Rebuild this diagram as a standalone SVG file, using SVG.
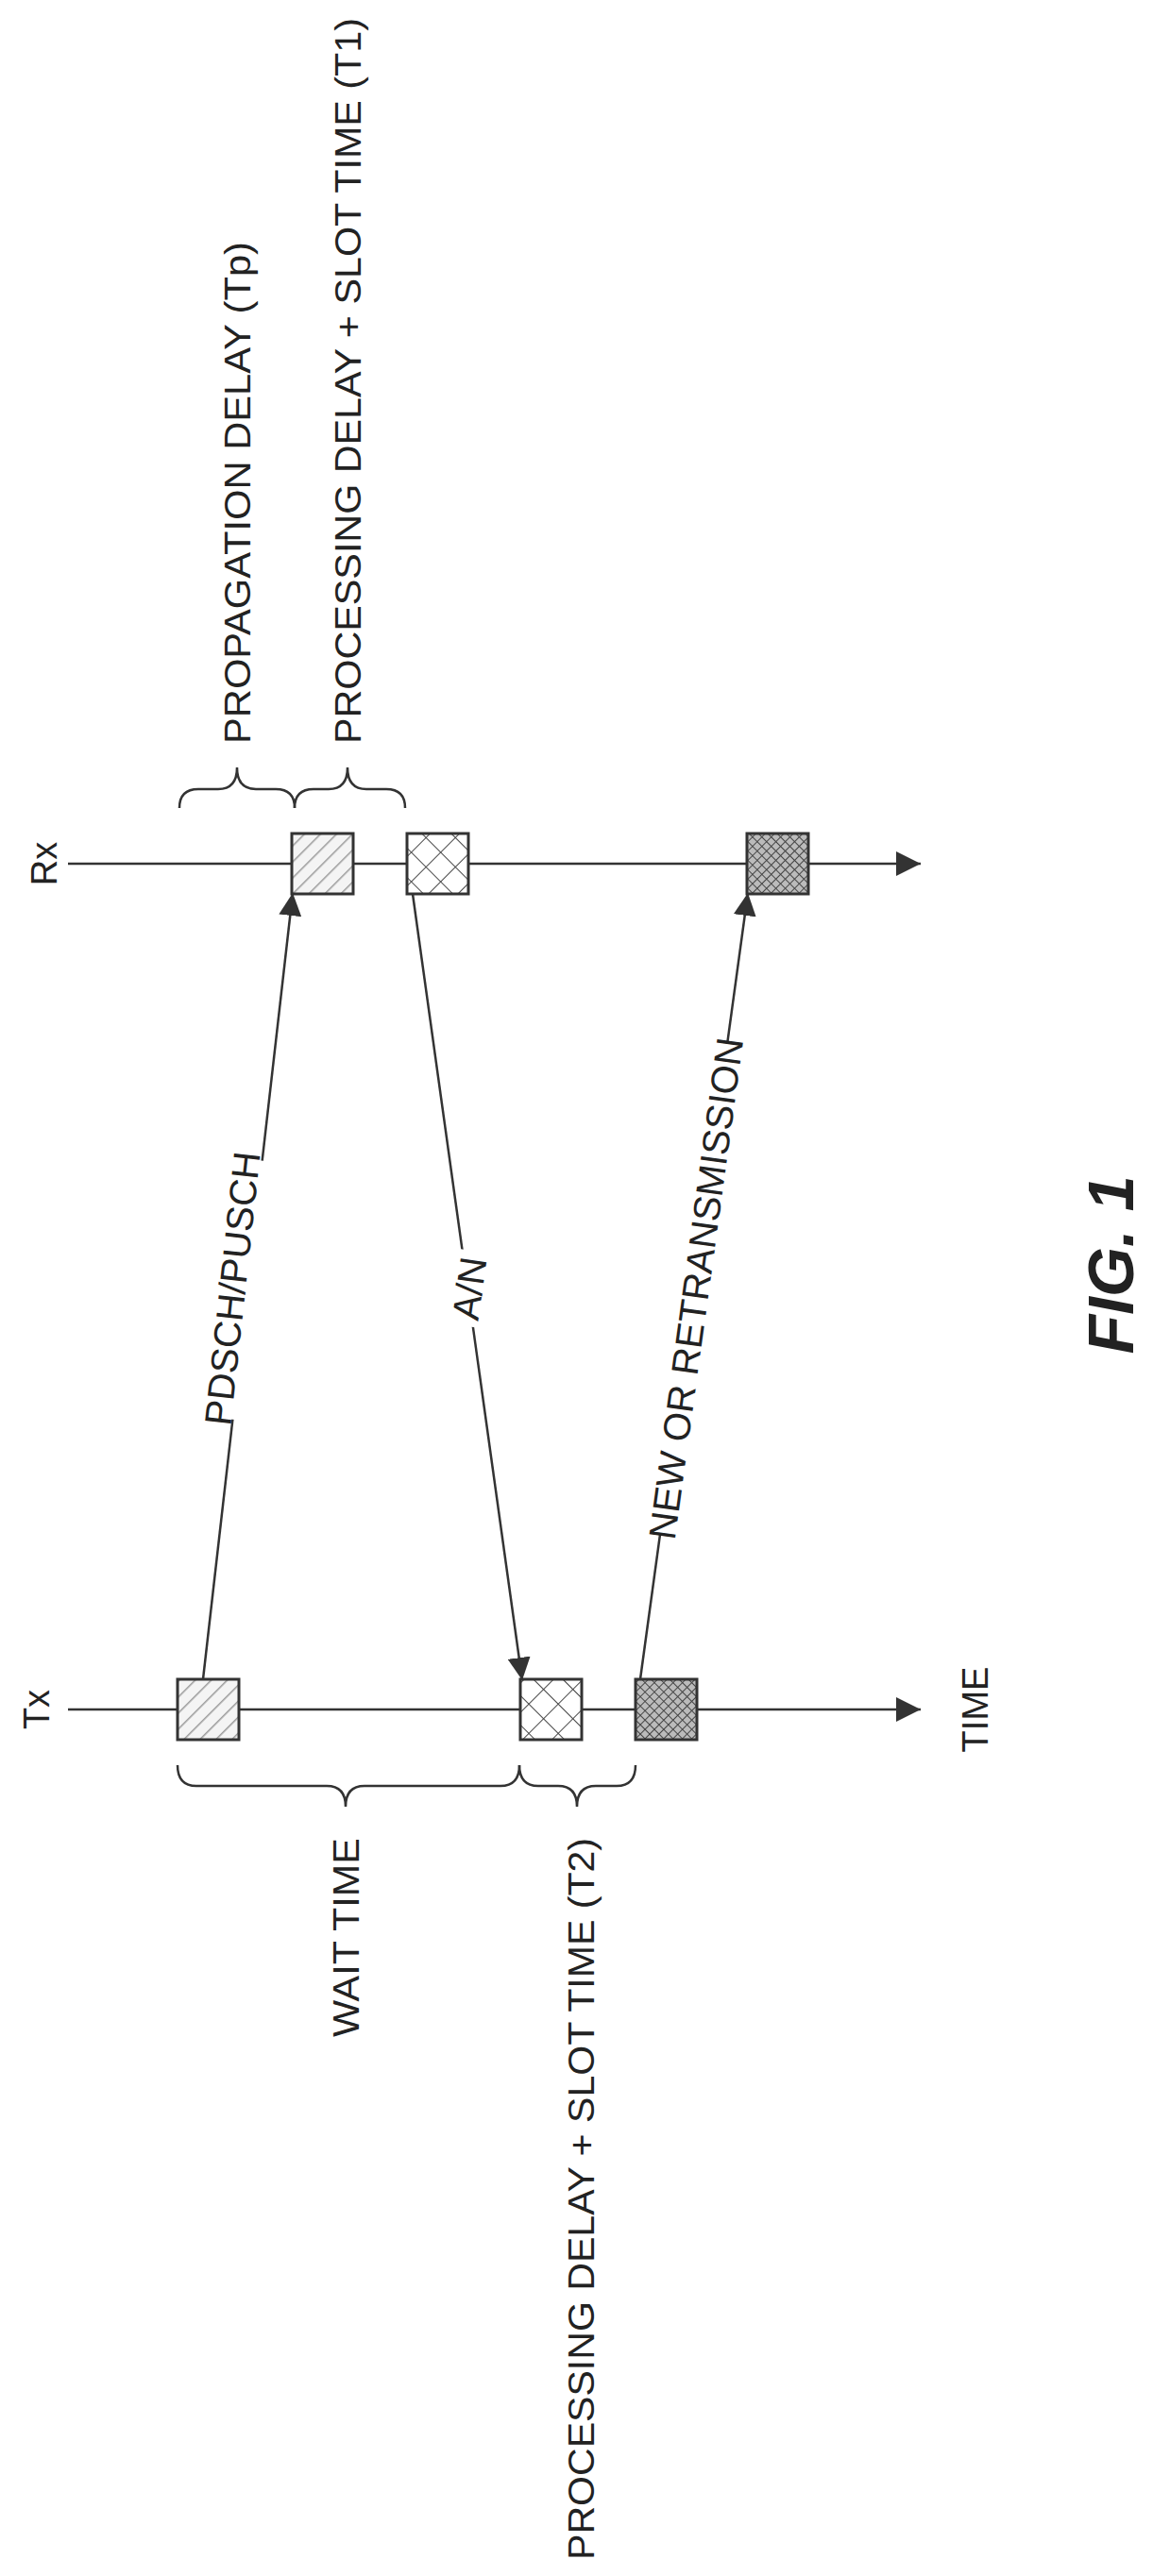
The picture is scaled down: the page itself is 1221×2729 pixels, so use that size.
<svg xmlns="http://www.w3.org/2000/svg" width="1221" height="2729" viewBox="0 0 1221 2729">
<style>
text{font-family:"Liberation Sans",Arial,sans-serif;fill:#222}
.t{font-size:38px}
.lbl{font-size:40px}
.ln{stroke:#333;stroke-width:2.5;fill:none}
.box{stroke:#333;stroke-width:3}
.bg{fill:#fff}
</style>
<defs>
<marker id="ah" viewBox="0 0 10 10" refX="10" refY="5" markerWidth="24" markerHeight="24" markerUnits="userSpaceOnUse" orient="auto"><path d="M0,0L10,5L0,10z" fill="#333"/></marker>
<marker id="ah2" viewBox="0 0 10 10" refX="10" refY="5" markerWidth="26" markerHeight="26" markerUnits="userSpaceOnUse" orient="auto"><path d="M0,0L10,5L0,10z" fill="#333"/></marker>
<pattern id="diag" width="12" height="12" patternUnits="userSpaceOnUse" patternTransform="rotate(45)"><rect width="12" height="12" fill="#f4f4f4"/><line x1="0" y1="0" x2="0" y2="12" stroke="#999" stroke-width="3"/></pattern>
<pattern id="cross" width="22" height="22" patternUnits="userSpaceOnUse" patternTransform="rotate(45)"><rect width="22" height="22" fill="#fff"/><path d="M0,0H22M0,0V22" stroke="#444" stroke-width="2"/></pattern>
<pattern id="dense" width="7" height="7" patternUnits="userSpaceOnUse" patternTransform="rotate(45)"><rect width="7" height="7" fill="#bbb"/><path d="M0,0H7M0,0V7" stroke="#444" stroke-width="2"/></pattern>
</defs>
<g id="axes">
<line class="ln" x1="72" y1="915" x2="975" y2="915" marker-end="url(#ah2)"/>
<line class="ln" x1="72" y1="1811" x2="975" y2="1811" marker-end="url(#ah2)"/>
<text class="t" transform="translate(60,915) rotate(-90)" text-anchor="middle">Rx</text>
<text class="t" transform="translate(52,1811) rotate(-90)" text-anchor="middle">Tx</text>
<text class="t" transform="translate(1046,1811) rotate(-90)" text-anchor="middle">TIME</text>
</g>
<g id="rx1"><rect class="box" x="309" y="883" width="65" height="64" fill="url(#diag)"/></g>
<g id="rx2"><rect class="box" x="431" y="883" width="65" height="64" fill="url(#cross)"/></g>
<g id="rx3"><rect class="box" x="791" y="883" width="65" height="64" fill="url(#dense)"/></g>
<g id="tx1"><rect class="box" x="188" y="1779" width="65" height="64" fill="url(#diag)"/></g>
<g id="tx2"><rect class="box" x="551" y="1779" width="65" height="64" fill="url(#cross)"/></g>
<g id="tx3"><rect class="box" x="673" y="1779" width="65" height="64" fill="url(#dense)"/></g>
<g id="connectors">
<line class="ln" x1="215" y1="1779" x2="310" y2="946" marker-end="url(#ah)"/>
<line class="ln" x1="437" y1="947" x2="553" y2="1780" marker-end="url(#ah)"/>
<line class="ln" x1="678" y1="1779" x2="792" y2="946" marker-end="url(#ah)"/>
<g transform="translate(246,1365) rotate(-83.8)"><rect class="bg" x="-138" y="-20" width="276" height="40"/><text class="lbl" text-anchor="middle" dy="14">PDSCH/PUSCH</text></g>
<g transform="translate(497,1365) rotate(-82)"><rect class="bg" x="-40" y="-20" width="80" height="40"/><text class="lbl" text-anchor="middle" dy="14">A/N</text></g>
<g transform="translate(737,1365) rotate(-82.2)"><rect class="bg" x="-262" y="-20" width="524" height="40"/><text class="lbl" text-anchor="middle" dy="14">NEW OR RETRANSMISSION</text></g>
</g>
<g id="braces">
<path class="ln" d="M190,856 Q190,836 210,836 L231,836 Q251,836 251,813 Q251,836 271,836 L292,836 Q312,836 312,856"/>
<path class="ln" d="M312,856 Q312,836 332,836 L348,836 Q368,836 368,813 Q368,836 388,836 L409,836 Q429,836 429,856"/>
<path class="ln" d="M188,1870 Q188,1892 208,1892 L346,1892 Q366,1892 366,1914 Q366,1892 386,1892 L530,1892 Q550,1892 550,1870"/>
<path class="ln" d="M550,1870 Q550,1892 570,1892 L591,1892 Q611,1892 611,1914 Q611,1892 631,1892 L653,1892 Q673,1892 673,1870"/>
</g>
<g id="labels">
<text class="t" transform="translate(265,788) rotate(-90)" textLength="532" lengthAdjust="spacingAndGlyphs">PROPAGATION DELAY (Tp)</text>
<text class="t" transform="translate(382,788) rotate(-90)" textLength="769" lengthAdjust="spacingAndGlyphs">PROCESSING DELAY  + SLOT TIME (T1)</text>
<text class="t" transform="translate(380,2158) rotate(-90)" textLength="211" lengthAdjust="spacingAndGlyphs">WAIT TIME</text>
<text class="t" transform="translate(629,2712) rotate(-90)" textLength="765" lengthAdjust="spacingAndGlyphs">PROCESSING DELAY + SLOT TIME (T2)</text>
<text transform="translate(1200,1340) rotate(-90)" text-anchor="middle" font-size="68" font-weight="bold" font-style="italic">FIG. 1</text>
</g>
</svg>
